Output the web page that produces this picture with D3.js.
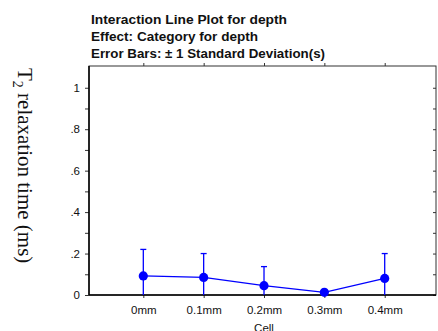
<!DOCTYPE html>
<html>
<head>
<meta charset="utf-8">
<script src="https://cdn.jsdelivr.net/npm/d3@7"></script>
<style>
	body { margin: 0; background: #fff; }
</style>
</head>
<body>
<svg id="chart" width="438" height="331" font-family="'Liberation Sans', Arial, sans-serif"></svg>
<script>
//Chart data
const CATEGORIES = ["0mm", "0.1mm", "0.2mm", "0.3mm", "0.4mm"];
const MEANS = [0.092, 0.085, 0.045, 0.013, 0.080];
const SDS = [0.128, 0.115, 0.092, 0.004, 0.120];
const Y_MAJOR_TICKS = [0, 0.2, 0.4, 0.6, 0.8, 1];
const Y_MINOR_TICKS = [0.1, 0.3, 0.5, 0.7, 0.9];
const TITLE_LINES = ["Interaction Line Plot for depth", "Effect: Category for depth", "Error Bars: \u00b1 1 Standard Deviation(s)"];
const X_TITLE = "Cell";

const LEFT = 89;
const RIGHT = 436;
const TOP = 66;
const BOTTOM = 295;
const BLUE = "#0000ff";

const svg = d3.select("#chart");

const x = d3.scaleLinear().domain([-0.9, 4.85]).range([LEFT, RIGHT]);
const y = d3.scaleLinear().domain([0, 1.105]).range([BOTTOM, TOP]);

//Format y labels like ".8" without leading zero
function fmt(d)
{
	if (d == 0 || d == 1)
		return String(d);
	return d3.format(".1f")(d).replace(/^0/, "");
}

//Title block
const titleWidths = [196, 167, 234];
svg.append("g").selectAll("text")
	.data(TITLE_LINES)
	.enter()
	.append("text")
	.attr("x", 91)
	.attr("y", (d, i) => 24 + i * 17)
	.attr("font-size", 12.5)
	.attr("font-weight", "bold")
	.attr("fill", "#111")
	.attr("textLength", (d, i) => titleWidths[i])
	.attr("lengthAdjust", "spacingAndGlyphs")
	.text(d => d);

//Left axis, majors with labels and minors without
svg.append("g").attr("transform", "translate(" + LEFT + ",0)")
	.call(d3.axisLeft(y).tickValues(Y_MAJOR_TICKS).tickSize(4).tickPadding(5).tickFormat(fmt));
svg.append("g").attr("transform", "translate(" + LEFT + ",0)")
	.call(d3.axisLeft(y).tickValues(Y_MINOR_TICKS).tickSize(4).tickFormat(""));

//Right side ticks, pointing inward
svg.append("g").attr("transform", "translate(" + RIGHT + ",0)")
	.call(d3.axisLeft(y).tickValues(Y_MAJOR_TICKS.concat(Y_MINOR_TICKS)).tickSize(3).tickFormat(""));

//Bottom axis with category labels
svg.append("g").attr("transform", "translate(0," + BOTTOM + ")")
	.call(d3.axisBottom(x).tickValues(d3.range(CATEGORIES.length)).tickSize(3).tickPadding(8).tickFormat(i => CATEGORIES[i]));

//Top ticks at categories
svg.append("g").attr("transform", "translate(0," + TOP + ")")
	.call(d3.axisTop(x).tickValues(d3.range(CATEGORIES.length)).tickSize(3).tickFormat(""));

//Replace axis domain paths by a plain frame
svg.selectAll(".domain").remove();
svg.selectAll(".tick line").attr("stroke", "#333");
svg.selectAll(".tick text")
	.attr("font-family", "'Liberation Sans', Arial, sans-serif")
	.attr("font-size", 11.5)
	.attr("fill", "#111");

svg.append("rect")
	.attr("x", LEFT)
	.attr("y", TOP)
	.attr("width", RIGHT - LEFT)
	.attr("height", BOTTOM - TOP)
	.attr("fill", "none")
	.attr("stroke", "#333")
	.attr("stroke-width", 1);
svg.append("line")
	.attr("x1", LEFT).attr("x2", LEFT)
	.attr("y1", TOP).attr("y2", BOTTOM)
	.attr("stroke", "#000").attr("stroke-width", 1.5);
svg.append("line")
	.attr("x1", LEFT).attr("x2", RIGHT)
	.attr("y1", BOTTOM).attr("y2", BOTTOM)
	.attr("stroke", "#000").attr("stroke-width", 1.5);

//Axis titles
svg.append("text")
	.attr("x", x(2))
	.attr("y", 332)
	.attr("text-anchor", "middle")
	.attr("font-size", 11.5)
	.attr("fill", "#111")
	.text(X_TITLE);

const yTitle = svg.append("text")
	.attr("transform", "translate(18,68) rotate(90)")
	.attr("font-family", "'Liberation Serif', 'Times New Roman', serif")
	.attr("font-size", 21)
	.attr("fill", "#111");
yTitle.append("tspan").text("T");
yTitle.append("tspan").attr("font-size", 14).attr("dy", 5).text("2");
yTitle.append("tspan").attr("dy", -5).text(" relaxation time (ms)");

//Error bars, lower end clipped at the axis
const bars = svg.append("g").selectAll("g")
	.data(MEANS)
	.enter()
	.append("g")
	.attr("stroke", BLUE)
	.attr("stroke-width", 1.3);
bars.append("line")
	.attr("x1", (d, i) => x(i)).attr("x2", (d, i) => x(i))
	.attr("y1", (d, i) => y(Math.max(0, d - SDS[i])))
	.attr("y2", (d, i) => y(d + SDS[i]));
bars.append("line")
	.attr("x1", (d, i) => x(i) - 3).attr("x2", (d, i) => x(i) + 3)
	.attr("y1", (d, i) => y(d + SDS[i]))
	.attr("y2", (d, i) => y(d + SDS[i]));

//Mean line and markers
svg.append("path")
	.datum(MEANS)
	.attr("fill", "none")
	.attr("stroke", BLUE)
	.attr("stroke-width", 1.3)
	.attr("d", d3.line().x((d, i) => x(i)).y(d => y(d)));

svg.append("g").selectAll("circle")
	.data(MEANS)
	.enter()
	.append("circle")
	.attr("cx", (d, i) => x(i))
	.attr("cy", d => y(d))
	.attr("r", 4.6)
	.attr("fill", BLUE);
</script>
</body>
</html>
